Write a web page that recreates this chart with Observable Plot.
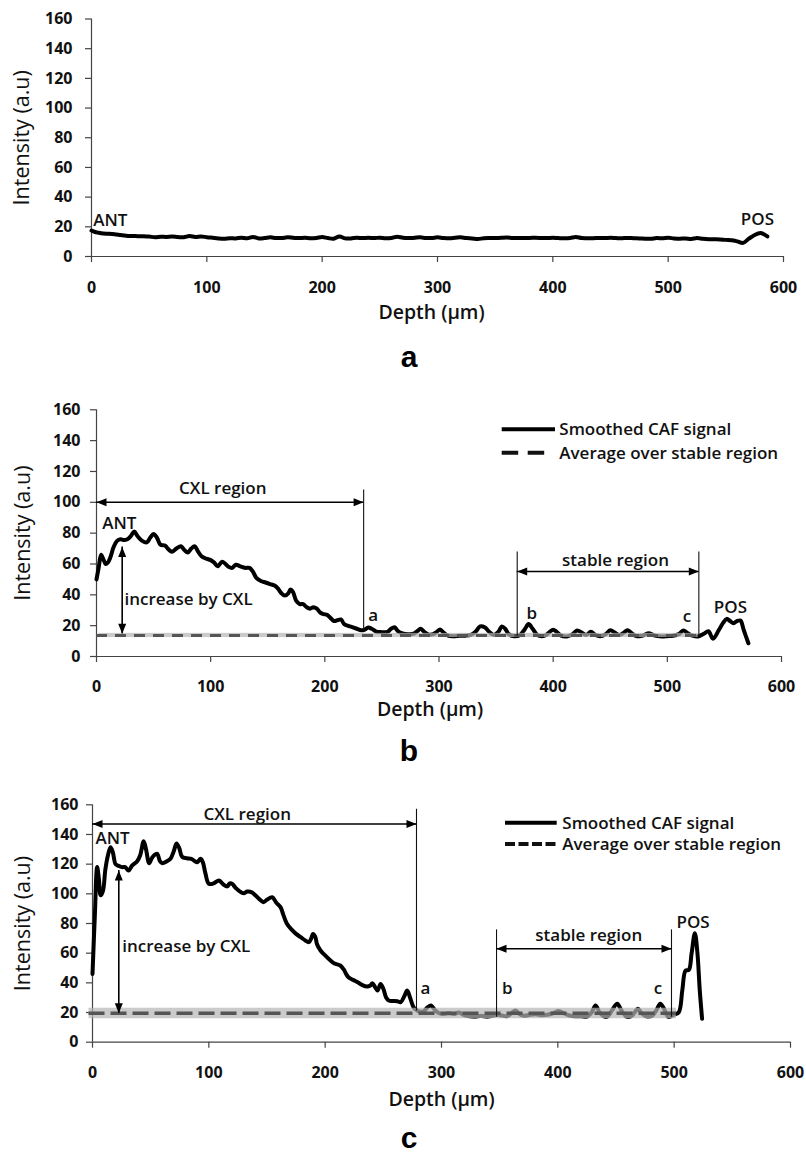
<!DOCTYPE html>
<html><head><meta charset="utf-8">
<script src="https://cdn.jsdelivr.net/npm/d3@7"></script>
<script src="https://cdn.jsdelivr.net/npm/@observablehq/plot@0.6"></script>
<style>
html,body{margin:0;padding:0;background:#fff;}
#page{position:relative;width:806px;height:1155px;overflow:hidden;background:#fff;font-family:"Open Sans",sans-serif;}
.cap{position:absolute;left:0;width:818px;text-align:center;font-weight:bold;font-size:30px;font-family:"Liberation Sans",Arial,sans-serif;line-height:24px;height:24px;}
</style></head><body><div id="page"></div>
<script>
// ---------- axis ticks ----------
const xTicks = [0, 100, 200, 300, 400, 500, 600];
const yTicks = [0, 20, 40, 60, 80, 100, 120, 140, 160];
const xLabel = "Depth (µm)";
const yLabel = "Intensity (a.u)";

// ---------- panel a : profile ----------
const depthA = [0,3,6,10,15,20,25,30,35,40,45,50,55,60,65,70,75,80,85,90,95,100,105,110,115,120,125,130,135,140,145,150,155,160,165,170,175,180,185,190,195,200,205,210,215,220,225,230,235,240,245,250,255,260,265,270,275,280,285,290,295,300,305,310,315,320,325,330,335,340,345,350,355,360,365,370,375,380,385,390,395,400,405,410,415,420,425,430,435,440,445,450,455,460,465,470,475,480,485,490,495,500,505,510,515,520,525,530,535,540,545,550,555,560,565,570,575,580,583,586];
const intensityA = [17.5,16.5,16,15.5,15.3,15,14.5,14,13.8,13.7,13.6,13.4,13,13.3,13.2,13.4,13.1,13,13.8,13.2,13.5,13,12.6,12.2,12,12.3,12.2,12.6,12.3,13.2,12.2,12.4,12.9,12.5,12.5,12.9,12.6,12.4,12.6,12.3,12.5,13.1,12.4,12,13.5,12.2,12.2,12.6,12.4,12.6,12.4,12.7,12.3,12.5,13.3,12.6,12.4,12.6,12.9,12.5,12.5,12.9,12.5,12.3,12.6,13,12.4,12.2,11.8,12.3,12.4,12.4,12.6,12.8,12.5,12.4,12.5,12.5,12.6,12.5,12.4,12.6,12.4,12.3,12.5,13.2,12.4,12.3,12.3,12.5,12.4,12.6,12.4,12.3,12.5,12.3,12.2,12,12,12.4,12.3,12.6,12.2,12,12.2,11.8,12.4,12,11.7,11.6,11.5,11.2,11,10.2,9.2,12,14.5,15.8,15,13.5];
const labelsA = [{x:1.5, y:24.3, t:"ANT"}, {x:563, y:24.7, t:"POS"}];

// ---------- panel b : profile ----------
const depthB = [0,2,4,6,8,10,12,15,18,21,24,27,30,33,36,40,44,47,50,53,56,60,63,66,70,74,77,80,83,86,89,92,96,100,103,106,110,113,116,119,122,126,130,134,137,140,144,148,152,156,159,162,165,168,170,172,175,178,181,184,187,190,193,196,199,202,205,208,211,214,217,220,224,228,232,235,238,241,245,250,255,258,261,264,268,273,278,281,284,287,291,295,298,301,304,308,313,318,323,328,332,336,340,344,348,352,355,358,361,366,371,375,378.5,382,386,390,394,397,400,403,407,412,417,421,425,429,433,437,441,446,450,454,458,462,465,469,473,478,484,489,495,500,505,510,514,518,522,527,532,536,540,545,549,552,555,558,561,564,567,571];
const intensityB = [50,58,66,63,60,61,64,71,75,76,75.5,76,78,81,78,75,74,77,79.5,77,72.5,72,69.5,68,70,71.5,69,67.5,70,71.5,68,65,63.5,62.5,61,58.5,61.5,60,58,57.5,59.5,58.5,57.5,57.5,55,51,49,48,47,46,44,41,39.5,41,43.5,42,36,34,34,32,31,32,31,28.5,27.5,27,25,23,23.5,24,21,20,19,18,17,17.5,18.8,18,16.2,15.8,16,18,19,16.5,15,14.5,14.8,16.5,18,16,14.2,14.5,16,17.5,15.5,13.5,13.2,13.5,13.5,14,16,19.5,19,16,14,16,19.5,18,14.5,13.2,14,17.5,21,18,14,13.2,14,16,17.3,16,13.5,13,14.5,16.9,15.5,14,16,14,13.2,14.5,17,15.5,14,15.5,17,15,13.2,13.5,15,13.5,13,13.2,13.5,14.5,16.8,15,13.5,13,14.7,16.4,11.5,17,22,24.4,23,21.6,23,23.3,17,8.6];
const averageB = [{x1:0, x2:527, y:13.7}];
const bandB = [{x1:2, x2:527, y1:12.3, y2:15.0}];
const regionLinesB = [{x:234, y1:17, y2:108}, {x:368.5, y1:13, y2:67.7}, {x:527.6, y1:13, y2:67.7}];
const hArrowsB = [{x1:0, x2:234, y:100}, {x1:368.5, x2:527.6, y:55.1}];
const vArrowsB = [{x:22.5, y1:14.7, y2:71}];
const labelsStartB = [{x:5, y:86, t:"ANT"}, {x:24.5, y:36.8, t:"increase by CXL"}, {x:238, y:26.6, t:"a"}, {x:376.6, y:27.7, t:"b"}, {x:513.5, y:26, t:"c"}, {x:540.7, y:32, t:"POS"}];
const labelsMidB = [{x:110.6, y:108.8, t:"CXL region"}, {x:454.6, y:62.3, t:"stable region"}];

// ---------- panel c : profile ----------
const depthC = [0,2,4,5.5,7,9,11,13,15.5,17.5,19.8,22,25.5,28,31,34,38.4,41,44,46,48.7,51,53,55.6,58,60,64,67,70,72.2,74.5,77,81,85,88,90,93,95,97,100,104,108.6,111,113,115.8,118,120,123,126,130,133,137,140,144,147,150,154.5,158,161.6,164,167,171,175,179,183,186,188,189.5,191.5,193,196,200,204.6,208,213,216,218,220,224,228,232,236,238.5,240.6,243,245,247.6,250,252.5,254.7,258,262,265,268,270.5,273,276,279,282,285,288,291,294,298,302,306,311,315,319,324,329,334,339,344,348,352,356,360,363.6,367,371,376,381,386,391,396,400.8,405,410,415,420,425,429,432.4,436,440,443,447,451,455,459,463,466,468.8,472,476,481,485,488,491,495,500,504,507,509.8,512.6,515,517.8,520,522,524];
const intensityC = [46,85,118,110,99,102,116,125,131.4,128,120,119,118,118,115.7,119,122,126,135.5,130,120.6,124,126,127,122,120.6,122,123.6,129,134,131,125,124,123.6,122,121.3,123.6,121,114,106.8,107,109,107.5,106,105,107,106.8,104,102,100.4,101.5,101,99,96,94.4,96,97.7,94,91,86,80,76,73,70.8,68.5,67.4,70,73,71,66,61.8,58.5,55,53,51.7,49,46,43.8,42,40.4,38.5,37.5,38,39.7,37,34.8,39.3,36,30,28.1,27.8,27.6,27,31,34.8,30,23.5,21.4,20.5,21,23.5,24.7,22,19.5,19,19.5,19,20,18.5,17.5,17.2,17.8,17.2,17.8,18.5,18,17.5,19.5,21.4,19,17.8,18.5,18.8,18.2,18.5,19.5,21,19.5,18,17.5,17.5,17.2,20,24.7,20,17.2,17.5,22,25.9,21,17.2,17.5,20,22.5,19.5,17.5,17.8,22,25.9,23,17,18.5,20.2,35,48.3,48.7,60,73.5,60,35,15.8];
const averageC = [{x1:-3, x2:502, y:19.5}];
const bandC = [{x1:-3, x2:502, y1:15.8, y2:22.9}];
const regionLinesC = [{x:278.5, y1:21, y2:157}, {x:347.3, y1:16.8, y2:75.7}, {x:497.7, y1:16.8, y2:75.7}];
const hArrowsC = [{x1:0, x2:278.5, y:147.1}, {x1:347.3, x2:497.7, y:63}];
const vArrowsC = [{x:22.6, y1:19.5, y2:115.7}];
const labelsStartC = [{x:2.6, y:137, t:"ANT"}, {x:25.5, y:64.5, t:"increase by CXL"}, {x:282, y:36, t:"a"}, {x:352, y:36, t:"b"}, {x:482.5, y:36, t:"c"}, {x:502, y:80.9, t:"POS"}];
const labelsMidC = [{x:133, y:153.4, t:"CXL region"}, {x:426.6, y:71.9, t:"stable region"}];

// ---------- legend ----------
const legendNames = ["Smoothed CAF signal", "Average over stable region"];

// ---------- arrowhead symbols (tip at the anchor point) ----------
const headRight = {draw(c){c.moveTo(0,0);c.lineTo(-10,-4);c.lineTo(-10,4);c.closePath();}};
const headLeft  = {draw(c){c.moveTo(0,0);c.lineTo(10,-4);c.lineTo(10,4);c.closePath();}};
const headUp    = {draw(c){c.moveTo(0,0);c.lineTo(-4,10);c.lineTo(4,10);c.closePath();}};
const headDown  = {draw(c){c.moveTo(0,0);c.lineTo(-4,-10);c.lineTo(4,-10);c.closePath();}};

const page = document.getElementById("page");
const FONT = '"Open Sans", sans-serif';

function panel(cfg) {
  const data = cfg.depth.map((d, i) => ({d, v: cfg.intensity[i]})).filter(p => p.v != null);
  const marks = [
    // axis lines
    Plot.ruleY([0], {stroke: "#444", strokeWidth: 1.2}),
    Plot.ruleX([0], {stroke: "#444", strokeWidth: 1.2}),
    // tick marks (outward, 6px)
    Plot.ruleX(xTicks, {x: d => d, y1: 0, y2: 0, insetBottom: -6, stroke: "#444", strokeWidth: 1.2}),
    Plot.ruleY(yTicks, {y: d => d, x1: 0, x2: 0, insetLeft: -6, stroke: "#444", strokeWidth: 1.2}),
    // tick labels
    Plot.text(xTicks, {x: d => d, text: d => String(d), frameAnchor: "bottom", lineAnchor: "middle", textAnchor: "middle", dy: cfg.xTickDy, fontSize: 16, fontWeight: "bold", fill: "#111"}),
    Plot.text(yTicks, {y: d => d, text: d => String(d), frameAnchor: "left", lineAnchor: "middle", textAnchor: "end", dx: cfg.yTickDx, fontSize: 16, fontWeight: "bold", fill: "#111"}),
    // axis titles
    Plot.text([yLabel], {frameAnchor: "left", textAnchor: "middle", lineAnchor: "middle", rotate: -90, dx: cfg.yLabelDx, fontSize: 21.5, fill: "#111"}),
    Plot.text([xLabel], {frameAnchor: "bottom", textAnchor: "middle", lineAnchor: "middle", dy: cfg.xLabelDy, dx: cfg.xLabelDx, fontSize: 19.5, fontWeight: 600, fill: "#111"}),
    // signal
    Plot.line(data, {x: "d", y: "v", stroke: "#000", strokeWidth: 4, curve: "catmull-rom", strokeLinejoin: "round"})
  ];
  if (cfg.band) {
    marks.push(Plot.rect(cfg.band, {x1: "x1", x2: "x2", y1: "y1", y2: "y2", fill: "#b5b5b5", fillOpacity: 0.7}));
    marks.push(Plot.ruleY(cfg.average, {y: "y", x1: "x1", x2: "x2", stroke: "#555", strokeWidth: cfg.dashWidth, strokeDasharray: cfg.dash}));
  }
  if (cfg.regionLines) {
    marks.push(Plot.ruleX(cfg.regionLines, {x: "x", y1: "y1", y2: "y2", stroke: "#111", strokeWidth: 1.1}));
    marks.push(Plot.ruleY(cfg.hArrows, {y: "y", x1: "x1", x2: "x2", stroke: "#000", strokeWidth: 1.6}));
    marks.push(Plot.dot(cfg.hArrows, {x: "x1", y: "y", symbol: headLeft, fill: "#000", stroke: "none"}));
    marks.push(Plot.dot(cfg.hArrows, {x: "x2", y: "y", symbol: headRight, fill: "#000", stroke: "none"}));
    marks.push(Plot.ruleX(cfg.vArrows, {x: "x", y1: "y1", y2: "y2", stroke: "#000", strokeWidth: 1.6}));
    marks.push(Plot.dot(cfg.vArrows, {x: "x", y: "y2", symbol: headUp, fill: "#000", stroke: "none"}));
    marks.push(Plot.dot(cfg.vArrows, {x: "x", y: "y1", symbol: headDown, fill: "#000", stroke: "none"}));
    marks.push(Plot.text(cfg.labelsMid, {x: "x", y: "y", text: "t", textAnchor: "middle", fontSize: 17, fontWeight: 600, fill: "#111"}));
  }
  marks.push(Plot.text(cfg.labelsStart, {x: "x", y: "y", text: "t", textAnchor: "start", fontSize: 17, fontWeight: 600, fill: "#111"}));

  const svg = Plot.plot({
    width: 806,
    height: cfg.height,
    marginTop: cfg.mt, marginBottom: cfg.mb, marginLeft: cfg.ml, marginRight: cfg.mr,
    x: {domain: [0, 600], axis: null},
    y: {domain: [0, 160], axis: null},
    style: {fontFamily: FONT, background: "transparent", overflow: "visible", color: "#111"},
    marks
  });
  svg.style.position = "absolute";
  svg.style.top = cfg.top + "px";
  svg.style.left = "0px";
  page.appendChild(svg);
}

panel({top: 0, height: 335, mt: 18.5, mb: 79, ml: 91, mr: 23,
  depth: depthA, intensity: intensityA, labelsStart: labelsA,
  xTickDy: 31, yTickDx: -19, yLabelDx: -69, xLabelDy: 56, xLabelDx: -6});

panel({top: 390, height: 335, mt: 19.3, mb: 69, ml: 96, mr: 25,
  depth: depthB, intensity: intensityB, band: bandB, average: averageB, dash: "11,8", dashWidth: 3,
  regionLines: regionLinesB, hArrows: hArrowsB, vArrows: vArrowsB,
  labelsStart: labelsStartB, labelsMid: labelsMidB,
  xTickDy: 30, yTickDx: -16, yLabelDx: -73.5, xLabelDy: 53.5, xLabelDx: -9});

panel({top: 780, height: 335, mt: 24.3, mb: 73.3, ml: 92, mr: 16,
  depth: depthC, intensity: intensityC, band: bandC, average: averageC, dash: "16,6", dashWidth: 3.6,
  regionLines: regionLinesC, hArrows: hArrowsC, vArrows: vArrowsC,
  labelsStart: labelsStartC, labelsMid: labelsMidC,
  xTickDy: 31, yTickDx: -14, yLabelDx: -69, xLabelDy: 58, xLabelDx: 0});

// captions
[["a", 345.4], ["b", 738.8], ["c", 1126]].forEach(([t, top]) => {
  const div = document.createElement("div");
  div.className = "cap";
  div.style.top = top + "px";
  div.textContent = t;
  page.appendChild(div);
});

// legends (overlay)
const ov = d3.select(page).append("svg")
  .attr("width", 806).attr("height", 1155)
  .style("position", "absolute").style("top", "0px").style("left", "0px")
  .style("pointer-events", "none");
const legends = [
  {x1: 501.7, x2: 555, dx2: 544.4, tx: 559.3, y: [429.3, 452.7], dash: "16.5,9.5"},
  {x1: 505, x2: 556.7, dx2: 556.7, tx: 562.3, y: [822.7, 844], dash: "10,3.5"}
];
legends.forEach(L => {
  ov.append("line").attr("x1", L.x1).attr("x2", L.x2).attr("y1", L.y[0]).attr("y2", L.y[0])
    .attr("stroke", "#000").attr("stroke-width", 4);
  ov.append("line").attr("x1", L.x1).attr("x2", L.dx2).attr("y1", L.y[1]).attr("y2", L.y[1])
    .attr("stroke", "#111").attr("stroke-width", 4).attr("stroke-dasharray", L.dash);
  legendNames.forEach((name, i) => {
    ov.append("text").attr("x", L.tx).attr("y", L.y[i]).attr("dy", "0.35em")
      .attr("font-family", FONT).attr("font-size", 17).attr("font-weight", 600).attr("fill", "#111")
      .text(name);
  });
});
</script></body></html>
